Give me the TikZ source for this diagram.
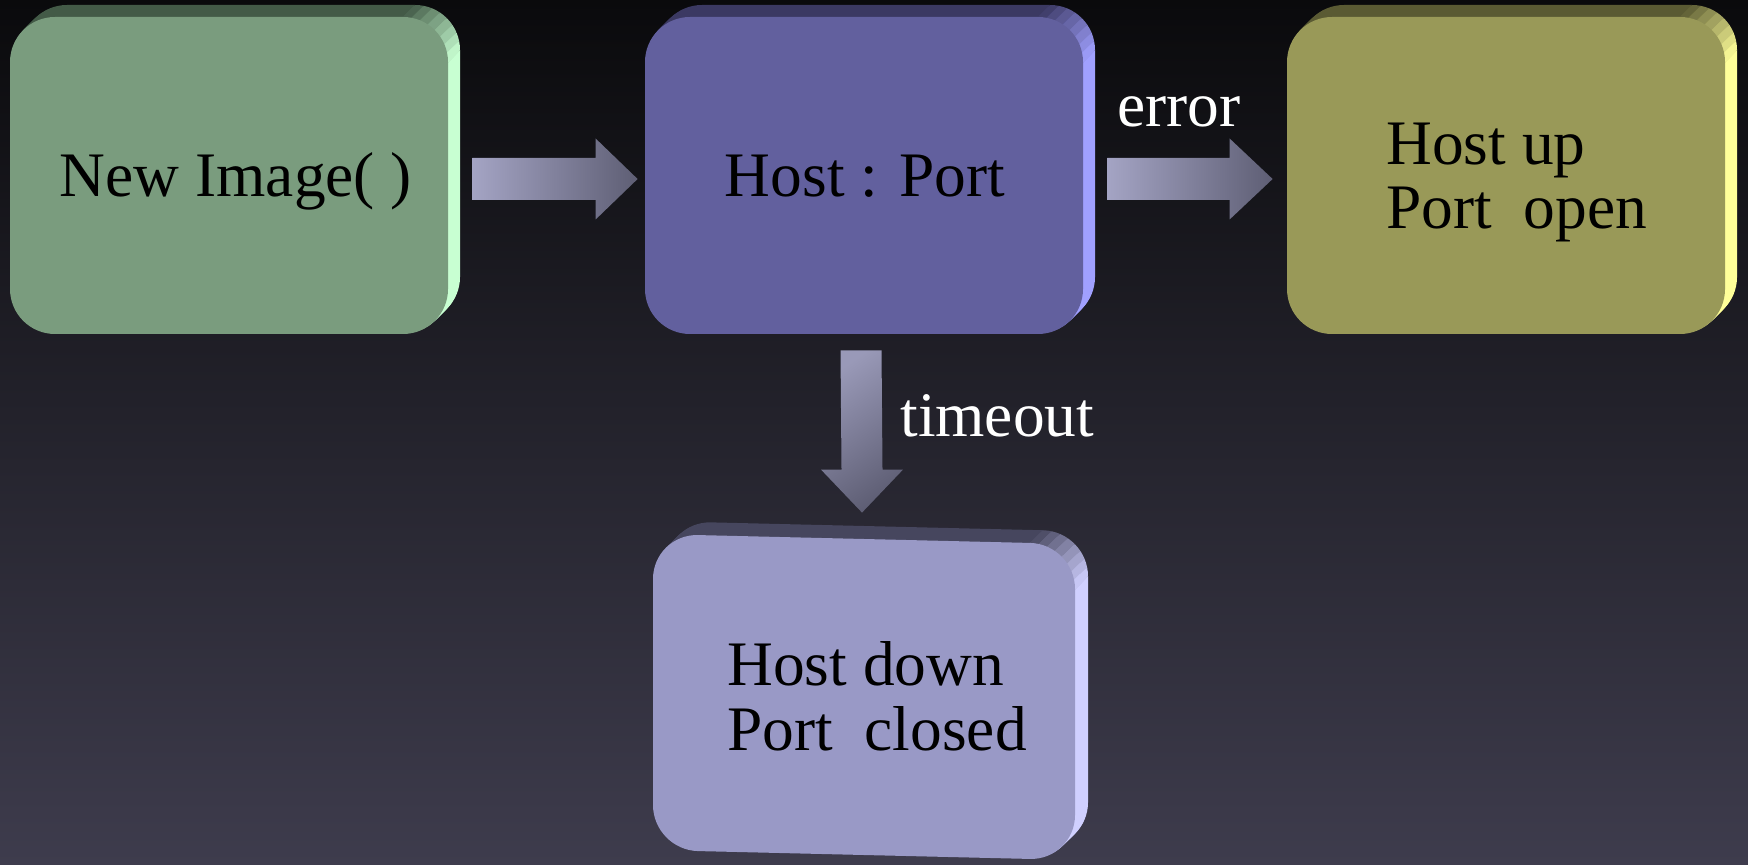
\documentclass[tikz,border=0pt]{standalone}
\usepackage{fontspec}
\setmainfont{Liberation Serif}
\usetikzlibrary{calc}

% page background
\definecolor{bgtop}{HTML}{0A0A0C}
\definecolor{bgbot}{HTML}{3E3C4D}
% slab colours: front face, top face, right face
\definecolor{greenF}{HTML}{7A9C7E}
\definecolor{greenT}{HTML}{435A47}
\definecolor{greenS}{HTML}{C8FFD2}
\definecolor{blueF}{HTML}{62609E}
\definecolor{blueT}{HTML}{3B3962}
\definecolor{blueS}{HTML}{A0A0FF}
\definecolor{oliveF}{HTML}{999958}
\definecolor{oliveT}{HTML}{5A5A33}
\definecolor{oliveS}{HTML}{FFFF99}
\definecolor{lavF}{HTML}{9999C6}
\definecolor{lavT}{HTML}{46465E}
\definecolor{lavS}{HTML}{D0D0FF}
% block arrows
\definecolor{arrowL}{HTML}{A4A4C4}
\definecolor{arrowR}{HTML}{5E5E74}

\tikzset{
  slabround/.style={rounded corners=22.5pt},
  face/.style={rectangle, slabround, draw=none, inner sep=0pt},
  boxtext/.style={text=black, inner sep=0pt},
  edgelabel/.style={text=white, inner sep=0pt},
  blockarrow/.style={draw=none},
}

% extruded body of a slab: copies of the face shifted up and right
% #1 xl, #2 yt, #3 xr, #4 yb, #5 depth, #6 colour
\newcommand\slabbody[6]{%
  \foreach \t in {1,...,#5}{%
    \fill[#6, slabround] ({#1+\t},{#2-\t}) rectangle ({#3+\t},{#4-\t});
  }%
}

% top and right faces of a slab, blended round the top-right corner
% #1 xl, #2 yt, #3 xr, #4 yb, #5 depth, #6 top colour, #7 side colour
\newcommand\slabsides[7]{%
  \pgfmathsetmacro\slabCtop{#3+#2-45}%
  \pgfmathsetmacro\slabCside{#3+#2+45}%
  \begin{scope}
    \clip (-3000,-200) -- ({\slabCtop+200},-200) -- ({\slabCtop-1200},1200) -- (-3000,1200) -- cycle;
    \slabbody{#1}{#2}{#3}{#4}{#5}{#6}
  \end{scope}
  \begin{scope}
    \clip (3000,-200) -- ({\slabCside+200},-200) -- ({\slabCside-1200},1200) -- (3000,1200) -- cycle;
    \slabbody{#1}{#2}{#3}{#4}{#5}{#7}
  \end{scope}
  \foreach \k in {0,...,7}{%
    \pgfmathsetmacro\ta{90-\k*11.25}%
    \pgfmathsetmacro\tb{90-(\k+1)*11.25}%
    \pgfmathsetmacro\ca{#3+#2+45*(cos(\ta)-sin(\ta))}%
    \pgfmathsetmacro\cb{#3+#2+45*(cos(\tb)-sin(\tb))}%
    \pgfmathsetmacro\pc{100*(\k+0.5)/8}%
    \colorlet{slabmix}{#7!\pc!#6}%
    \begin{scope}
      \clip ({\ca+200},-200) -- ({\cb+200},-200) -- ({\cb-1200},1200) -- ({\ca-1200},1200) -- cycle;
      \slabbody{#1}{#2}{#3}{#4}{#5}{slabmix}
    \end{scope}
  }%
}

\begin{document}
\begin{tikzpicture}[x=0.5pt, y=-0.5pt,
  every node/.append style={font=\fontsize{31.7pt}{38pt}\selectfont}]

% background
\shade[top color=bgtop, bottom color=bgbot] (0,0) rectangle (1748,865);
\useasboundingbox (0,0) rectangle (1748,865);

% --- slab 1: New Image()
\slabsides{10}{17}{448}{334}{12}{greenT}{greenS}
\node[face, fill=greenF, minimum width=219pt, minimum height=158.5pt] (b1) at (229,175.5) {};

% --- slab 2: Host : Port
\slabsides{645}{17}{1083}{334}{12}{blueT}{blueS}
\node[face, fill=blueF, minimum width=219pt, minimum height=158.5pt] (b2) at (864,175.5) {};

% --- slab 3: host up
\slabsides{1287}{17}{1725}{334}{12}{oliveT}{oliveS}
\node[face, fill=oliveF, minimum width=219pt, minimum height=158.5pt] (b3) at (1506,175.5) {};

% --- slab 4: host down (tilted slightly)
\begin{scope}[shift={(864,697)}, yslant=-0.0237]
  \slabsides{-211}{-158}{211}{158}{13}{lavT}{lavS}
  \node[face, fill=lavF, minimum width=211pt, minimum height=158pt, transform shape] (b4) at (0,0) {};
\end{scope}

% --- texts inside the slabs
\node[boxtext, anchor=base] (t1) at (236,197) {New Image( )};
\node[boxtext, anchor=base] (t2) at (865,197) {Host : Port};
\node[boxtext, anchor=base west] (t3a) at (1386,165) {Host up};
\node[boxtext, anchor=base west] (t3b) at (1386,229) {Port\ \ open};
\node[boxtext, anchor=base west] (t4a) at (727,685) {Host down};
\node[boxtext, anchor=base west] (t4b) at (727,750) {Port\ \ closed};

% --- block arrows
\coordinate (a1s) at ($(b1.east)+(24,3.5)$);
\coordinate (a1e) at ($(b2.west)+(-7,3.5)$);
\path[blockarrow, left color=arrowL, right color=arrowR]
  ($(a1s)+(0,-21)$) -- ($(a1e)+(-42,-21)$) -- ($(a1e)+(-42,-40.5)$) -- (a1e)
  -- ($(a1e)+(-42,40.5)$) -- ($(a1e)+(-42,21)$) -- ($(a1s)+(0,21)$) -- cycle;

\coordinate (a2s) at ($(b2.east)+(24,3.5)$);
\coordinate (a2e) at ($(b3.west)+(-14,3.5)$);
\path[blockarrow, left color=arrowL, right color=arrowR]
  ($(a2s)+(0,-21)$) -- ($(a2e)+(-43,-21)$) -- ($(a2e)+(-43,-40.5)$) -- (a2e)
  -- ($(a2e)+(-43,40.5)$) -- ($(a2e)+(-43,21)$) -- ($(a2s)+(0,21)$) -- cycle;

\coordinate (a3s) at ($(b2.south)+(-3,16)$);
\coordinate (a3e) at ($(b4.north)+(-2,-26)$);
\path[blockarrow, top color=arrowL!85!arrowR, bottom color=arrowR, shading angle=35]
  ($(a3s)+(-20.5,0)$) -- ($(a3e)+(-20.5,-43)$) -- ($(a3e)+(-41,-43)$) -- (a3e)
  -- ($(a3e)+(41,-43)$) -- ($(a3e)+(20.5,-43)$) -- ($(a3s)+(20.5,0)$) -- cycle;

% --- arrow labels
\node[edgelabel, anchor=base] (lerr) at (1179,127) {error};
\node[edgelabel, anchor=base west] (ltime) at (900,437) {timeout};

\end{tikzpicture}
\end{document}
